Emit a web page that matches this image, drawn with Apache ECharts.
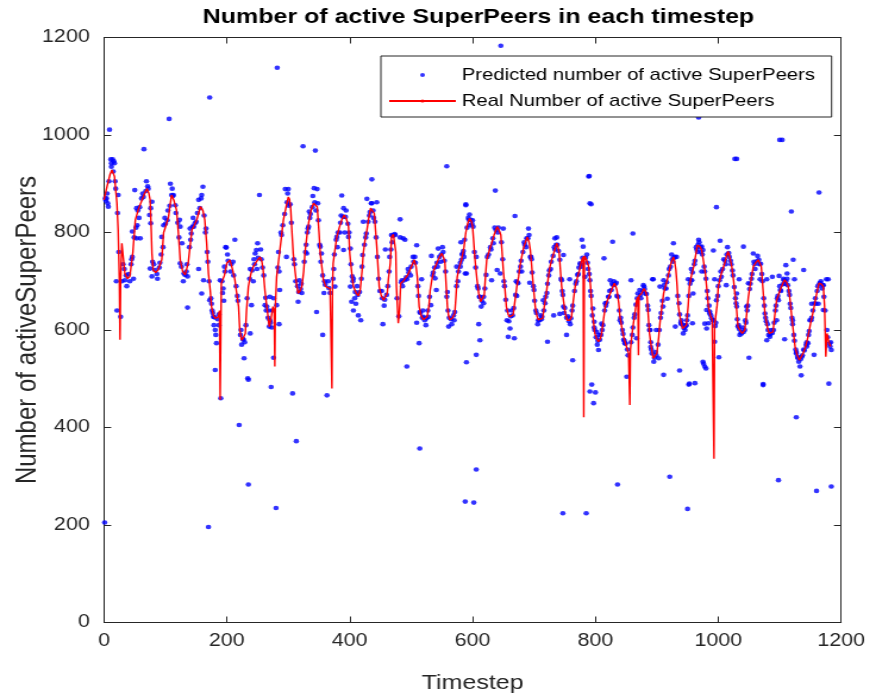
<!DOCTYPE html>
<html>
<head>
    <meta charset="utf-8">
    <title>Active SuperPeers</title>
    <script src="https://cdn.jsdelivr.net/npm/echarts@6/dist/echarts.min.js"></script>
    <style>
        html, body { margin: 0; padding: 0; background: #fff; overflow: hidden; }
        /* the figure was drawn narrower and then stretched sideways, so do the same */
        #main { width: 731px; height: 695px; transform: scaleX(1.1902); transform-origin: 0 0; }
    </style>
</head>
<body>
    <div id="main"></div>
    <script type="text/javascript">
        var myChart = echarts.init(document.getElementById('main'));

        var titleText = 'Number of active SuperPeers in each timestep';
        var xName = 'Timestep';
        var yName = 'Number of activeSuperPeers';
        var predName = 'Predicted number of active SuperPeers';
        var realName = 'Real Number of active SuperPeers';

        // axis range: both go 0..1200 in steps of 200
        var axisMin = 0, axisMax = 1200, axisStep = 200;

        // real number of active superpeers, [timestep, value]
        var realPoints = [
            [0, 867], [5, 895], [10, 920], [13, 928], [17, 915], [21, 860], [23, 805], [25, 700], [26, 580], [27, 700],
            [29, 778], [34, 716], [38, 705], [42, 710], [47, 760], [51, 826], [56, 848], [62, 867], [66, 880], [70, 890],
            [73, 880], [75, 867], [77, 800], [78, 757], [80, 723], [84, 718], [88, 723], [94, 744], [97, 800], [101, 815],
            [105, 832], [108, 860], [110, 877], [114, 865], [118, 846], [121, 800], [124, 744], [128, 720], [132, 713], [137, 737],
            [143, 805], [147, 815], [151, 826], [154, 840], [157, 853], [161, 845], [164, 826], [167, 780], [170, 716], [173, 680],
            [175, 648], [178, 630], [181, 624], [184, 622], [186, 627], [188, 640], [189, 457], [191, 696], [196, 712], [200, 737],
            [205, 744], [209, 725], [213, 703], [216, 675], [219, 648], [221, 600], [224, 579], [227, 585], [230, 593], [232, 640],
            [235, 689], [239, 715], [243, 730], [248, 740], [254, 750], [257, 740], [259, 723], [262, 680], [265, 648], [269, 607],
            [272, 625], [275, 648], [277, 640], [278, 525], [279, 650], [281, 709], [284, 740], [287, 771], [292, 826], [296, 850],
            [300, 873], [302, 868], [304, 846], [306, 800], [308, 757], [311, 720], [314, 689], [316, 675], [319, 680], [322, 689],
            [325, 720], [327, 757], [330, 790], [333, 819], [337, 845], [341, 860], [344, 858], [347, 853], [350, 800], [352, 757],
            [355, 725], [357, 703], [361, 689], [364, 688], [368, 685], [370, 684], [371, 480], [372, 690], [373, 737], [376, 765],
            [379, 791], [383, 810], [387, 826], [391, 836], [395, 826], [398, 812], [400, 757], [403, 720], [406, 689], [411, 675],
            [414, 670], [417, 682], [420, 720], [422, 757], [425, 785], [428, 805], [431, 830], [434, 850], [437, 848], [440, 839],
            [442, 805], [444, 771], [446, 730], [448, 689], [451, 672], [455, 661], [458, 665], [461, 675], [463, 705], [466, 737],
            [468, 791], [471, 796], [474, 795], [475, 760], [476, 689], [478, 640], [479, 614], [481, 640], [483, 696], [487, 700],
            [490, 703], [494, 712], [498, 723], [502, 735], [505, 744], [508, 730], [510, 709], [513, 648], [516, 630], [520, 621],
            [523, 620], [526, 627], [529, 650], [531, 682], [534, 705], [537, 723], [541, 735], [544, 744], [547, 752], [550, 757],
            [553, 748], [555, 737], [557, 690], [559, 648], [561, 628], [563, 621], [567, 624], [571, 634], [573, 670], [575, 709],
            [578, 728], [582, 744], [586, 770], [589, 800], [592, 818], [595, 829], [598, 823], [600, 812], [604, 744], [607, 705],
            [610, 675], [613, 658], [616, 662], [619, 672], [621, 710], [623, 744], [627, 762], [631, 778], [635, 795], [640, 812],
            [643, 805], [646, 795], [648, 760], [650, 723], [653, 680], [655, 648], [658, 632], [660, 627], [663, 628], [666, 631],
            [669, 660], [672, 689], [675, 710], [677, 730], [680, 750], [683, 768], [686, 780], [689, 791], [692, 780], [694, 764],
            [696, 735], [698, 703], [700, 675], [702, 648], [705, 628], [707, 621], [710, 620], [714, 624], [717, 650], [720, 675],
            [723, 705], [726, 730], [729, 745], [732, 757], [735, 770], [737, 778], [739, 770], [741, 757], [743, 722], [745, 689],
            [748, 660], [751, 634], [754, 620], [756, 617], [758, 620], [761, 627], [764, 660], [767, 689], [770, 705], [774, 723],
            [777, 740], [780, 750], [781, 421], [782, 752], [785, 745], [789, 730], [792, 690], [794, 648], [797, 615], [799, 593],
            [802, 582], [805, 576], [808, 582], [810, 593], [813, 620], [816, 648], [820, 662], [824, 675], [828, 688], [831, 696],
            [833, 690], [835, 682], [838, 655], [840, 627], [843, 605], [846, 586], [850, 568], [854, 552], [856, 446], [857, 560],
            [859, 586], [862, 615], [865, 641], [867, 661], [869, 668], [870, 548], [871, 670], [875, 675], [879, 685], [882, 678],
            [884, 668], [886, 630], [888, 593], [891, 565], [894, 542], [897, 545], [900, 552], [903, 585], [905, 614], [908, 645],
            [911, 675], [914, 690], [917, 703], [920, 720], [923, 737], [927, 750], [929, 740], [931, 723], [933, 690], [935, 648],
            [938, 625], [942, 603], [945, 606], [948, 610], [951, 650], [953, 689], [956, 710], [960, 730], [963, 752], [966, 774],
            [970, 771], [973, 764], [976, 740], [979, 716], [981, 690], [984, 648], [987, 630], [990, 621], [992, 618], [993, 336],
            [994, 610], [996, 607], [998, 650], [1000, 689], [1005, 716], [1010, 735], [1013, 750], [1016, 761], [1019, 748], [1022, 730],
            [1025, 700], [1027, 675], [1030, 640], [1032, 607], [1036, 598], [1039, 593], [1043, 600], [1046, 630], [1049, 668], [1053, 700],
            [1057, 730], [1061, 738], [1065, 744], [1068, 740], [1070, 730], [1073, 680], [1076, 634], [1080, 605], [1083, 593], [1086, 592],
            [1089, 596], [1092, 630], [1095, 661], [1099, 676], [1103, 689], [1106, 698], [1108, 703], [1111, 698], [1114, 689], [1117, 660],
            [1119, 634], [1122, 600], [1125, 566], [1128, 550], [1132, 538], [1135, 542], [1138, 552], [1142, 565], [1146, 586], [1150, 612],
            [1155, 641], [1159, 668], [1164, 696], [1168, 694], [1171, 689], [1173, 650], [1175, 545], [1177, 593], [1180, 575], [1183, 566]
        ];

        // predicted points that stand off the red line (outliers and scatter)
        var predPoints = [
            [1, 205], [3, 865], [4, 870], [6, 860], [7, 853], [9, 1011], [11, 950], [12, 942], [14, 950], [16, 946],
            [17, 942], [20, 700], [21, 640], [23, 877], [27, 627], [29, 700], [34, 702], [42, 700], [46, 802], [46, 750],
            [48, 705], [50, 887], [53, 850], [53, 788], [54, 815], [59, 788], [64, 873], [65, 971], [72, 890], [74, 836],
            [75, 726], [76, 819], [78, 863], [78, 710], [83, 723], [91, 738], [94, 791], [97, 815], [106, 1033], [108, 900],
            [110, 877], [113, 877], [123, 826], [124, 812], [124, 737], [127, 778], [132, 713], [136, 710], [136, 646], [140, 808],
            [144, 812], [148, 819], [154, 867], [154, 725], [159, 877], [159, 675], [161, 894], [162, 702], [166, 808], [170, 196],
            [172, 1077], [172, 661], [175, 654], [178, 627], [181, 600], [181, 518], [182, 590], [183, 573], [189, 702], [190, 460],
            [193, 676], [194, 685], [195, 660], [198, 770], [199, 769], [213, 785], [220, 405], [224, 570], [227, 580], [228, 542],
            [234, 501], [235, 283], [235, 498], [238, 593], [240, 651], [243, 700], [246, 757], [248, 764], [250, 778], [253, 877],
            [262, 651], [265, 648], [269, 607], [270, 620], [270, 668], [272, 483], [276, 543], [276, 665], [280, 235], [281, 651],
            [282, 1138], [285, 612], [285, 720], [286, 682], [295, 889], [297, 750], [300, 889], [307, 470], [313, 372], [316, 658],
            [318, 702], [322, 676], [324, 977], [330, 757], [333, 812], [334, 843], [342, 891], [344, 968], [346, 637], [347, 889],
            [352, 771], [354, 757], [356, 590], [358, 676], [363, 466], [368, 676], [373, 705], [376, 689], [379, 791], [384, 800],
            [387, 876], [390, 850], [390, 764], [392, 800], [398, 791], [401, 767], [401, 689], [403, 658], [406, 705], [406, 640],
            [410, 654], [414, 630], [418, 620], [421, 754], [422, 822], [428, 869], [436, 909], [436, 860], [444, 862], [454, 612],
            [458, 765], [468, 795], [474, 795], [482, 790], [482, 827], [485, 702], [487, 788], [490, 785], [493, 704], [493, 525],
            [509, 774], [509, 615], [513, 573], [514, 357], [514, 637], [517, 704], [520, 627], [528, 627], [532, 651], [533, 752],
            [539, 706], [541, 682], [544, 767], [552, 760], [558, 936], [559, 678], [561, 607], [571, 637], [574, 730], [580, 730],
            [581, 780], [582, 744], [584, 757], [588, 716], [588, 248], [589, 856], [589, 858], [590, 716], [590, 534], [595, 837],
            [601, 812], [602, 246], [606, 314], [606, 750], [606, 549], [610, 612], [612, 668], [612, 579], [618, 655], [622, 713],
            [631, 702], [634, 778], [637, 886], [640, 723], [645, 716], [646, 1183], [650, 808], [656, 620], [658, 586], [661, 603],
            [668, 583], [669, 834], [672, 670], [674, 696], [680, 720], [691, 808], [693, 697], [694, 750], [700, 682], [707, 620],
            [713, 627], [715, 661], [721, 676], [722, 576], [732, 630], [734, 788], [742, 744], [742, 633], [745, 702], [747, 224],
            [748, 754], [748, 648], [753, 590], [758, 704], [763, 538], [771, 713], [775, 737], [778, 785], [780, 771], [783, 709],
            [785, 224], [789, 915], [790, 916], [791, 860], [791, 702], [791, 474], [793, 858], [794, 488], [796, 644], [797, 450],
            [798, 617], [800, 472], [802, 596], [805, 559], [810, 613], [814, 747], [816, 655], [821, 668], [824, 702], [828, 781],
            [834, 697], [836, 283], [840, 620], [846, 580], [848, 573], [851, 504], [858, 702], [861, 798], [867, 583], [872, 682],
            [879, 689], [886, 641], [889, 600], [890, 565], [893, 704], [894, 704], [899, 600], [903, 542], [905, 689], [910, 648],
            [911, 508], [911, 702], [917, 664], [921, 299], [927, 778], [930, 607], [932, 750], [937, 517], [940, 620], [943, 593],
            [948, 610], [950, 233], [951, 704], [952, 488], [953, 490], [957, 702], [958, 614], [959, 675], [962, 491], [968, 785],
            [968, 1036], [973, 771], [973, 720], [975, 535], [975, 764], [976, 531], [978, 613], [978, 525], [980, 521], [981, 641],
            [981, 603], [984, 614], [986, 634], [992, 763], [992, 620], [994, 576], [994, 704], [997, 852], [997, 661], [1001, 544],
            [1003, 783], [1005, 709], [1013, 692], [1027, 951], [1030, 951], [1030, 675], [1030, 648], [1032, 607], [1034, 704], [1038, 593],
            [1041, 771], [1043, 600], [1046, 648], [1049, 696], [1050, 543], [1057, 757], [1068, 704], [1073, 489], [1073, 487], [1076, 634],
            [1079, 704], [1079, 579], [1084, 586], [1088, 709], [1095, 620], [1098, 292], [1098, 661], [1099, 711], [1100, 990], [1104, 990],
            [1108, 581], [1110, 733], [1112, 716], [1117, 654], [1119, 843], [1121, 620], [1122, 744], [1124, 704], [1127, 421], [1127, 552],
            [1133, 525], [1135, 507], [1139, 723], [1144, 566], [1146, 573], [1149, 620], [1152, 654], [1156, 549], [1159, 654], [1160, 270],
            [1163, 654], [1164, 882], [1165, 696], [1171, 692], [1171, 641], [1176, 1102], [1176, 704], [1179, 704], [1180, 490], [1182, 566],
            [1184, 559], [1184, 279]
        ];

        // predicted points that sit close to the red line
        var predNearLine = [
            [2, 870], [8, 905], [12, 935], [15, 925], [19, 890], [24, 760], [31, 735], [36, 712], [40, 715], [44, 735],
            [49, 790], [55, 845], [58, 852], [61, 870], [68, 885], [71, 895], [79, 740], [86, 715], [90, 728], [96, 770],
            [100, 818], [103, 825], [107, 855], [112, 875], [116, 856], [120, 820], [126, 730], [130, 716], [134, 720], [139, 770],
            [142, 798], [146, 812], [150, 822], [156, 850], [163, 835], [168, 760], [171, 700], [174, 665], [177, 635], [180, 626],
            [185, 622], [187, 632], [192, 700], [197, 720], [202, 742], [207, 735], [211, 712], [215, 690], [218, 660], [222, 590],
            [226, 582], [231, 610], [237, 705], [241, 722], [245, 735], [251, 748], [256, 745], [260, 712], [263, 666], [267, 625],
            [271, 615], [274, 640], [283, 728], [289, 795], [294, 838], [298, 862], [303, 858], [305, 820], [310, 735], [312, 700],
            [317, 678], [320, 684], [326, 740], [329, 775], [332, 808], [336, 838], [339, 852], [343, 862], [349, 825], [351, 775],
            [356, 712], [360, 693], [366, 686], [375, 755], [378, 785], [381, 800], [385, 820], [389, 832], [393, 832], [397, 818],
            [402, 735], [405, 700], [409, 678], [413, 672], [416, 678], [419, 705], [424, 775], [427, 798], [430, 822], [433, 842],
            [438, 845], [441, 822], [445, 750], [449, 680], [453, 665], [457, 662], [460, 672], [464, 720], [467, 765], [470, 793],
            [473, 797], [477, 665], [480, 628], [484, 698], [489, 702], [492, 708], [496, 718], [500, 730], [504, 740], [507, 738],
            [512, 670], [515, 635], [518, 625], [522, 620], [525, 624], [530, 668], [535, 712], [538, 728], [542, 738], [546, 750],
            [549, 755], [554, 742], [558, 668], [562, 625], [565, 622], [569, 630], [574, 690], [577, 720], [580, 738], [585, 762],
            [587, 785], [591, 810], [594, 826], [597, 826], [599, 818], [603, 760], [605, 728], [609, 685], [611, 668], [615, 660],
            [618, 668], [624, 750], [629, 770], [633, 788], [638, 805], [642, 810], [647, 780], [651, 700], [654, 662], [657, 640],
            [662, 628], [665, 630], [670, 672], [673, 698], [676, 720], [679, 742], [682, 760], [685, 775], [688, 788], [690, 788],
            [695, 750], [697, 718], [699, 690], [701, 660], [704, 635], [709, 620], [712, 622], [716, 640], [719, 668], [722, 695],
            [725, 722], [728, 740], [731, 752], [734, 765], [736, 775], [738, 775], [740, 762], [744, 705], [747, 672], [750, 645],
            [753, 625], [757, 618], [760, 624], [763, 650], [766, 680], [769, 700], [772, 715], [776, 735], [779, 748], [784, 748],
            [787, 738], [790, 715], [793, 670], [795, 630], [798, 605], [801, 585], [804, 578], [807, 580], [809, 590], [812, 610],
            [815, 640], [818, 656], [822, 668], [826, 682], [829, 692], [832, 694], [837, 668], [839, 640], [842, 615], [845, 592],
            [849, 572], [852, 560], [858, 575], [861, 605], [864, 632], [866, 652], [868, 665], [873, 672], [877, 680], [880, 684],
            [883, 674], [885, 650], [887, 610], [890, 575], [892, 552], [896, 543], [899, 548], [902, 570], [904, 600], [907, 635],
            [909, 660], [913, 685], [916, 698], [919, 712], [922, 730], [925, 745], [928, 748], [934, 670], [937, 632], [940, 612],
            [944, 604], [947, 608], [950, 630], [952, 670], [955, 702], [958, 718], [962, 742], [965, 765], [967, 775], [971, 770],
            [974, 755], [977, 730], [980, 705], [983, 665], [986, 638], [989, 624], [991, 620], [995, 608], [999, 670], [1002, 702],
            [1007, 725], [1011, 742], [1014, 755], [1017, 758], [1020, 742], [1024, 712], [1026, 688], [1029, 655], [1031, 622], [1034, 602],
            [1037, 596], [1041, 596], [1045, 615], [1048, 650], [1051, 684], [1055, 715], [1059, 735], [1063, 741], [1066, 744], [1069, 736],
            [1072, 700], [1075, 650], [1078, 618], [1081, 600], [1085, 592], [1088, 594], [1091, 615], [1094, 650], [1097, 670], [1101, 682],
            [1105, 694], [1107, 702], [1110, 700], [1113, 692], [1116, 672], [1118, 645], [1121, 612], [1124, 578], [1127, 555], [1130, 542],
            [1134, 540], [1137, 548], [1140, 558], [1144, 575], [1148, 598], [1152, 625], [1157, 655], [1161, 680], [1166, 696], [1170, 692],
            [1172, 668], [1178, 585], [1181, 572]
        ];

        // predicted points in the loose cloud a little away from the line
        var predSpread = [
            [5, 880], [18, 905], [22, 840], [33, 725], [37, 690], [45, 745], [52, 810], [57, 830], [63, 880], [69, 905],
            [76, 850], [81, 735], [87, 705], [93, 755], [99, 830], [104, 845], [111, 890], [117, 840], [122, 790], [129, 700],
            [135, 735], [141, 785], [145, 830], [152, 840], [158, 870], [165, 800], [169, 740], [176, 640], [179, 610], [187, 610],
            [196, 730], [201, 755], [206, 720], [210, 740], [217, 670], [223, 600], [229, 575], [233, 665], [238, 725], [244, 745],
            [249, 725], [255, 765], [258, 728], [264, 640], [268, 640], [273, 605], [284, 760], [288, 800], [291, 815], [299, 880],
            [301, 855], [309, 745], [315, 690], [321, 695], [328, 760], [331, 800], [335, 830], [340, 875], [345, 845], [348, 860],
            [353, 740], [359, 700], [365, 700], [374, 725], [380, 770], [386, 835], [394, 845], [399, 800], [404, 710], [408, 665],
            [412, 690], [420, 730], [426, 790], [432, 835], [435, 860], [439, 830], [443, 790], [447, 705], [452, 680], [456, 650],
            [462, 690], [465, 750], [469, 780], [486, 690], [495, 725], [499, 712], [503, 750], [506, 750], [511, 690], [519, 640],
            [524, 610], [527, 640], [536, 718], [543, 730], [548, 740], [551, 770], [556, 720], [560, 640], [566, 612], [570, 620],
            [576, 700], [583, 755], [586, 750], [593, 830], [596, 815], [600, 825], [608, 690], [614, 648], [620, 685], [626, 755],
            [630, 765], [636, 810], [641, 800], [649, 745], [652, 690], [659, 618], [664, 640], [667, 645], [671, 700], [678, 730],
            [684, 780], [687, 770], [692, 795], [696, 745], [703, 640], [706, 612], [711, 630], [718, 655], [724, 712], [727, 725],
            [733, 770], [737, 790], [746, 680], [749, 635], [755, 628], [759, 612], [762, 640], [768, 695], [773, 728], [777, 730],
            [786, 755], [788, 725], [792, 680], [799, 600], [803, 570], [806, 590], [811, 600], [817, 650], [823, 680], [827, 695],
            [830, 700], [835, 670], [841, 625], [844, 600], [847, 578], [853, 548], [860, 590], [863, 625], [869, 675], [874, 665],
            [878, 692], [881, 675], [888, 600], [891, 560], [895, 535], [898, 555], [906, 625], [912, 692], [915, 685], [920, 725],
            [924, 755], [926, 740], [929, 750], [936, 655], [939, 615], [943, 610], [946, 600], [949, 620], [954, 695], [956, 725],
            [961, 735], [964, 770], [966, 760], [969, 780], [972, 760], [978, 720], [982, 680], [985, 650], [988, 630], [996, 615],
            [1000, 690], [1004, 720], [1009, 745], [1012, 735], [1015, 770], [1018, 750], [1021, 735], [1023, 722], [1028, 665], [1033, 610],
            [1035, 590], [1040, 605], [1044, 620], [1047, 640], [1052, 695], [1054, 705], [1058, 740], [1060, 725], [1064, 752], [1067, 735],
            [1071, 715], [1074, 665], [1077, 625], [1080, 612], [1082, 590], [1087, 600], [1090, 600], [1093, 640], [1096, 665], [1100, 690],
            [1102, 680], [1106, 705], [1109, 695], [1112, 705], [1115, 680], [1120, 625], [1123, 590], [1126, 560], [1129, 545], [1131, 535],
            [1136, 545], [1139, 560], [1143, 570], [1147, 590], [1151, 620], [1154, 640], [1158, 665], [1162, 690], [1167, 700], [1169, 685],
            [1174, 640], [1177, 600], [1183, 575]
        ];

        var fontFamily = '"Liberation Sans", Arial, Helvetica, sans-serif';
        var axisColor = '#262626';

        function plainNumber(value) {
            return String(value);
        }

        option = {
            animation: false,
            backgroundColor: '#fff',
            title: {
                text: titleText,
                left: 397,
                top: 2,
                textAlign: 'center',
                textStyle: {
                    fontFamily: fontFamily,
                    fontSize: 21,
                    fontWeight: 'bold',
                    color: '#000'
                }
            },
            legend: {
                orient: 'vertical',
                left: 320,
                top: 56,
                padding: [9, 14, 6, 6],
                itemGap: 6,
                itemWidth: 56,
                itemHeight: 4,
                borderColor: axisColor,
                borderWidth: 1,
                borderRadius: 0,
                backgroundColor: '#fff',
                textStyle: {
                    fontFamily: fontFamily,
                    fontSize: 17,
                    lineHeight: 20,
                    color: '#000'
                },
                data: [
                    { name: predName, icon: 'circle' },
                    { name: realName }
                ]
            },
            grid: {
                left: 87.4,
                right: 24.3,
                top: 37.5,
                bottom: 72.5,
                containLabel: false,
                outerBoundsMode: 'none',
                show: false
            },
            xAxis: [{
                type: 'value',
                position: 'bottom',
                min: axisMin,
                max: axisMax,
                interval: axisStep,
                name: xName,
                nameLocation: 'middle',
                nameGap: 50,
                nameTextStyle: {
                    fontFamily: fontFamily,
                    fontSize: 21,
                    color: axisColor
                },
                axisLine: { show: true, onZero: false, lineStyle: { color: axisColor, width: 1 } },
                axisTick: { show: true, inside: true, length: 6, lineStyle: { color: axisColor } },
                axisLabel: {
                    fontFamily: fontFamily,
                    fontSize: 18,
                    color: axisColor,
                    margin: 10,
                    formatter: plainNumber
                },
                splitLine: { show: false }
            }, {
                type: 'value',
                position: 'top',
                min: axisMin,
                max: axisMax,
                interval: axisStep,
                axisLine: { show: true, onZero: false, lineStyle: { color: axisColor, width: 1 } },
                axisTick: { show: true, inside: true, length: 6, lineStyle: { color: axisColor } },
                axisLabel: { show: false },
                splitLine: { show: false }
            }],
            yAxis: [{
                type: 'value',
                position: 'left',
                min: axisMin,
                max: axisMax,
                interval: axisStep,
                name: yName,
                nameLocation: 'middle',
                nameGap: 52,
                nameRotate: 90,
                nameMoveOverlap: false,
                nameTextStyle: {
                    fontFamily: fontFamily,
                    fontSize: 24,
                    color: axisColor
                },
                axisLine: { show: true, onZero: false, lineStyle: { color: axisColor, width: 1 } },
                axisTick: { show: true, inside: true, length: 6, lineStyle: { color: axisColor } },
                axisLabel: {
                    fontFamily: fontFamily,
                    fontSize: 18,
                    color: axisColor,
                    margin: 12,
                    formatter: plainNumber
                },
                splitLine: { show: false }
            }, {
                type: 'value',
                position: 'right',
                min: axisMin,
                max: axisMax,
                interval: axisStep,
                axisLine: { show: true, onZero: false, lineStyle: { color: axisColor, width: 1 } },
                axisTick: { show: true, inside: true, length: 6, lineStyle: { color: axisColor } },
                axisLabel: { show: false },
                splitLine: { show: false }
            }],
            series: [{
                name: predName,
                type: 'scatter',
                xAxisIndex: 0,
                yAxisIndex: 0,
                symbol: 'circle',
                symbolSize: 4.6,
                itemStyle: { color: '#0000ff' },
                z: 2,
                data: predPoints.concat(predNearLine, predSpread)
            }, {
                name: realName,
                type: 'line',
                xAxisIndex: 0,
                yAxisIndex: 0,
                symbol: 'none',
                showSymbol: false,
                lineStyle: { color: '#ff0000', width: 1.4 },
                itemStyle: { color: '#ff0000' },
                z: 3,
                data: realPoints
            }]
        };

        myChart.setOption(option);
    </script>
</body>
</html>
